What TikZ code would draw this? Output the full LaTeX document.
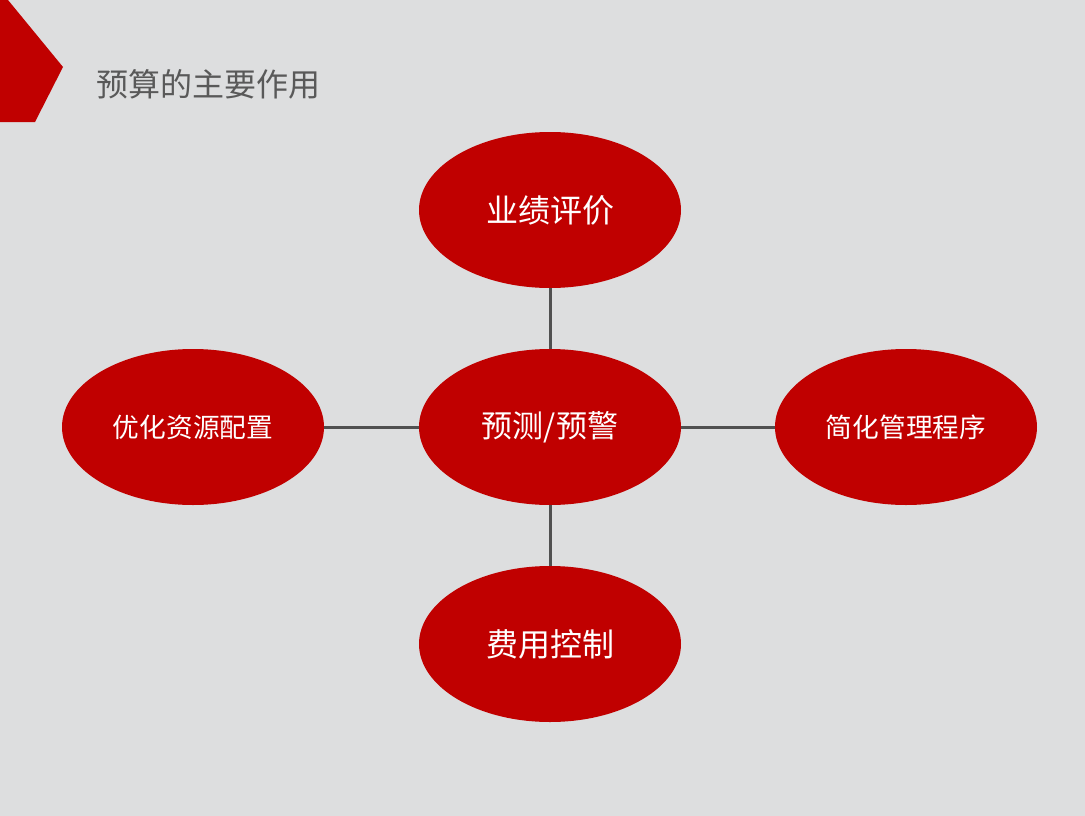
\documentclass[tikz,border=0pt]{standalone}
\usepackage{fontspec}
\newfontfamily\cjk{Noto Sans CJK SC}
\usetikzlibrary{shapes.geometric}
\definecolor{bgc}{RGB}{221,222,223}
\definecolor{redc}{RGB}{192,0,0}
\definecolor{linec}{RGB}{80,80,80}
\definecolor{titlec}{RGB}{89,89,89}
\tikzset{
  bubble/.style={ellipse, fill=redc, draw=none, minimum width=262pt, minimum height=156pt, inner sep=0pt, text=white, font=\cjk\fontsize{32}{36}\selectfont},
  midbubble/.style={bubble, font=\cjk\fontsize{31}{36}\selectfont},
  smallbubble/.style={bubble, font=\cjk\fontsize{26.7}{30}\selectfont},
  link/.style={draw=linec, line width=3pt}
}
\begin{document}
\begin{tikzpicture}[x=1pt,y=-1pt]
\fill[bgc] (0,0) rectangle (1085,816);
\useasboundingbox (0,0) rectangle (1085,816);
\fill[redc] (0,0) -- (8,0) -- (63,67) -- (35,122) -- (0,122) -- cycle;
\node[anchor=west, text=titlec, font=\cjk\fontsize{32}{36}\selectfont, inner sep=0pt] (title) at (96,84) {预算的主要作用};
\node[midbubble] (c) at (550,427) {预测/预警};
\node[bubble] (t) at (550,210) {业绩评价};
\node[bubble] (b) at (550,644) {费用控制};
\node[smallbubble] (l) at (193,427) {优化资源配置};
\node[smallbubble] (r) at (906,427) {简化管理程序};
\draw[link] (c.north) -- (t.south);
\draw[link] (c.south) -- (b.north);
\draw[link] (c.west) -- (l.east);
\draw[link] (c.east) -- (r.west);
\end{tikzpicture}
\end{document}
